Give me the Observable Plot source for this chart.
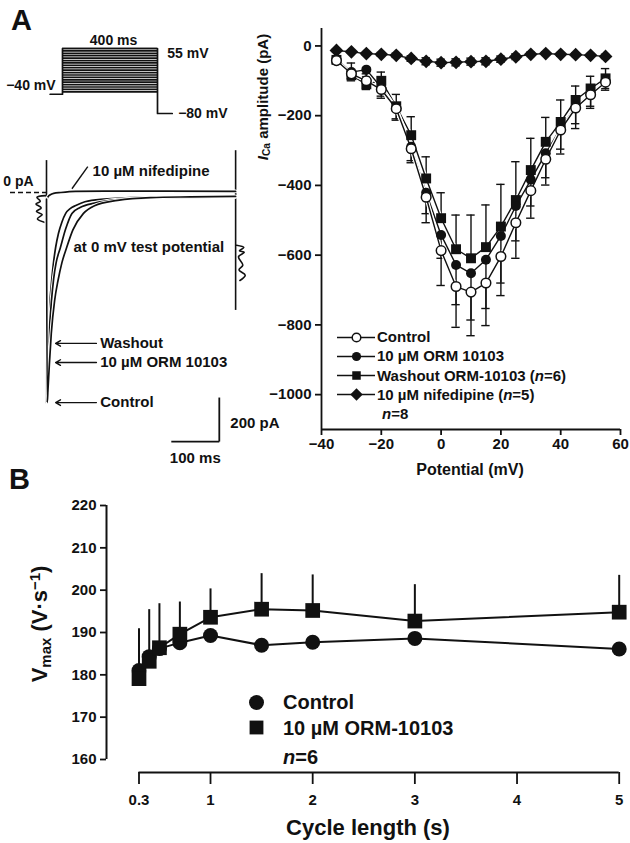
<!DOCTYPE html>
<html><head><meta charset="utf-8">
<script src="https://cdn.jsdelivr.net/npm/d3@7"></script>
<script src="https://cdn.jsdelivr.net/npm/@observablehq/plot@0.6"></script>
<style>
html,body{margin:0;padding:0;background:#fff;}
#fig{position:relative;width:630px;height:843px;overflow:hidden;background:#fff;font-family:"Liberation Sans",Arial,Helvetica,sans-serif;font-weight:bold;color:#111;}
#fig svg{position:absolute;left:0;top:0;}
#fig g[aria-label^="x-axis"] line,#fig g[aria-label^="x-axis"] path,#fig g[aria-label^="y-axis"] line,#fig g[aria-label^="y-axis"] path{stroke-width:1.8px;}
.lab{position:absolute;white-space:nowrap;line-height:1;}
.lab sub{font-size:0.68em;vertical-align:-0.25em;line-height:0;}
.lab sup{font-size:0.68em;vertical-align:0.45em;line-height:0;}
</style></head><body><div id="fig"></div>
<script>
// ================= DATA =================
// Panel A – voltage protocol (test potentials, mV) and its outline
const testPotentials = [-35,-30,-25,-20,-15,-10,-5,0,5,10,15,20,25,30,35,40,45,50,55];
const protocolTime = [-52, 0, 0, 400, 400, 462];
const protocolVolt = [-40, -40, 55, 55, -80, -80];

// Panel A – representative current traces at 0 mV (time ms, current pA)
const controlTraceT = [0, 1.5, 3, 6, 10, 17, 24, 32, 42, 55, 77, 100, 148, 217, 300, 394];
const controlTraceI = [-30, -955, -900, -780, -640, -490, -400, -320, -250, -170, -95, -60, -36, -23, -20, -18];
const ormTraceT = [0, 1.5, 3, 6, 10, 15, 20, 29, 40, 53, 70, 100, 150, 250, 394];
const ormTraceI = [-30, -773, -730, -620, -500, -390, -320, -250, -165, -95, -68, -48, -32, -24, -20];
const washoutTraceT = [0, 1.5, 3, 6, 10, 14, 19, 25, 32, 40, 50, 61, 80, 120, 200, 394];
const washoutTraceI = [-30, -686, -640, -530, -420, -330, -250, -185, -135, -95, -72, -59, -42, -30, -22, -18];
const nifTraceT = [0, 3, 8, 15, 30, 60, 120, 250, 394];
const nifTraceI = [-36, -20, -10, -4, 0, 5, 6, 6, 5];
// small pre-pulse and tail artefacts
const prePulseT = [-2, -20, -13, -22, -11, -21, -9, -19, -3];
const prePulseI = [-14, -22, -40, -52, -70, -86, -100, -120, -136];
const tailT = [396, 411, 402, 412, 400, 409, 401, 414, 403];
const tailI = [-240, -250, -265, -272, -292, -330, -352, -376, -400];
const traceNames = ["Washout", "10 \u00b5M ORM 10103", "Control"];
const tracePeaks = [-686, -773, -955];
const scaleBarTime = [260, 360];      // 100 ms
const scaleBarCurrent = [-932, -1132]; // 200 pA

// Panel A – I–V relationship
const potentials = [-35,-30,-25,-20,-15,-10,-5,0,5,10,15,20,25,30,35,40,45,50,55];
const ivControl = [-42,-80,-100,-125,-180,-295,-434,-587,-690,-706,-680,-604,-507,-415,-325,-241,-178,-140,-104];
const ivControlErr = [8,20,25,25,33,40,73,100,117,125,122,112,102,79,74,69,59,39,23];
const ivORM = [-38,-75,-68,-119,-179,-289,-421,-542,-628,-652,-613,-545,-459,-384,-308,-236,-173,-138,-100];
const ivORMErr = [8,18,20,25,30,40,60,67,114,134,140,135,100,75,70,60,50,35,22];
const ivWashout = [-40,-84,-110,-100,-173,-256,-380,-494,-583,-609,-577,-518,-442,-356,-275,-218,-155,-122,-93];
const ivWashoutErr = [8,35,30,25,34,53,62,73,98,124,121,121,110,91,70,63,40,35,28];
const ivNifedipine = [-13,-17,-22,-24,-27,-36,-44,-48,-47,-45,-44,-38,-31,-24,-22,-24,-25,-27,-30];
const ivNifedipineErr = [4,4,5,5,6,8,10,10,10,10,10,9,8,6,5,5,5,5,6];
const ivSeries = ["Control", "10 \u00b5M ORM 10103", "Washout ORM-10103", "10 \u00b5M nifedipine"];
const ivLegendText = ["Control", "10 \u00b5M ORM 10103", "Washout ORM-10103 (<i>n</i>=6)", "10 \u00b5M nifedipine (<i>n</i>=5)"];
const ivXTicks = [-40, -20, 0, 20, 40, 60];
const ivYTicks = [0, -200, -400, -600, -800, -1000];

// Panel B – Vmax vs cycle length
const cycleLength = [0.3, 0.4, 0.5, 0.7, 1, 1.5, 2, 3, 5];
const vmaxControl = [181.0, 184.3, 186.2, 187.6, 189.3, 187.0, 187.7, 188.6, 186.1];
const vmaxORM = [179.1, 183.2, 186.4, 189.6, 193.6, 195.5, 195.2, 192.7, 194.8];
const vmaxORMErr = [11.8, 12.2, 10.4, 7.6, 6.7, 8.4, 8.4, 8.6, 8.7];
const bSeries = ["Control", "10 \u00b5M ORM-10103"];
const bXTicks = [0.3, 1, 2, 3, 4, 5];
const bYTicks = [160, 170, 180, 190, 200, 210, 220];

// ================= HELPERS =================
const W = 630, H = 843;
const FONT = '"Liberation Sans", Arial, Helvetica, sans-serif';
const INK = "#111";
const fig = document.getElementById("fig");
const fmtMinus = d => (d < 0 ? "\u2212" + Math.abs(d) : String(d));
function plot(opts) {
  const svg = Plot.plot({width: W, height: H, marginTop: 0, marginRight: 0, marginBottom: 0, marginLeft: 0,
    ...opts,
    style: `background: transparent; font-family: ${FONT}; font-weight: bold; font-size: 15px; color: ${INK}; overflow: visible;`});
  fig.appendChild(svg);
  return svg;
}
function label(html, x, y, size, anchor) {
  const d = document.createElement("div");
  d.className = "lab"; d.innerHTML = html;
  d.style.fontSize = size + "px";
  d.style.left = x + "px"; d.style.top = (y - 0.49 * size) + "px";
  if (anchor === "middle") d.style.transform = "translateX(-50%)";
  fig.appendChild(d);
}
function rotLabel(html, cx, cy, size) {
  const d = document.createElement("div");
  d.className = "lab"; d.innerHTML = html;
  d.style.fontSize = size + "px";
  d.style.left = cx + "px"; d.style.top = cy + "px";
  d.style.transform = "translate(-50%,-50%) rotate(-90deg)";
  fig.appendChild(d);
}
const diamondSym = d3.symbolDiamond2 || {draw(ctx, size) { const r = Math.sqrt(size) * 0.62625; ctx.moveTo(0,-r); ctx.lineTo(r,0); ctx.lineTo(0,r); ctx.lineTo(-r,0); ctx.closePath(); }};

// ================= PANEL A: protocol =================
const protocol = protocolTime.map((t, i) => ({t, v: protocolVolt[i]}));
plot({
  x: {domain: [0, 400], range: [62, 157], axis: null},
  y: {domain: [-80, 55], range: [113, 48], axis: null},
  marks: [
    Plot.ruleY(testPotentials, {y: d => d, x1: 0, x2: 400, stroke: INK, strokeWidth: 1.7}),
    Plot.line(protocol, {x: "t", y: "v", stroke: INK, strokeWidth: 1.7}),
    Plot.text(["400 ms"], {x: 215, y: 72, text: d => d, fontSize: 14}),
    Plot.text(["55 mV"], {x: 441, y: 44, text: d => d, fontSize: 14, textAnchor: "start"}),
    Plot.text(["\u221280 mV"], {x: 487, y: -80, text: d => d, fontSize: 14, textAnchor: "start"}),
    Plot.text(["\u221240 mV"], {x: -29, y: -22, text: d => d, fontSize: 14, textAnchor: "end"})
  ]
});

// ================= PANEL A: current traces =================
const traces = [
  ...nifTraceT.map((t, i) => ({s: "nif", t, i: nifTraceI[i]})),
  ...washoutTraceT.map((t, i) => ({s: "wash", t, i: washoutTraceI[i]})),
  ...ormTraceT.map((t, i) => ({s: "orm", t, i: ormTraceI[i]})),
  ...controlTraceT.map((t, i) => ({s: "ctrl", t, i: controlTraceI[i]}))
];
const prePulse = prePulseT.map((t, k) => ({t, i: prePulseI[k]}));
const tail = tailT.map((t, k) => ({t, i: tailI[k]}));
const arrows = traceNames.map((name, k) => ({name, peak: tracePeaks[k]}));
const traceMarks = [];
for (const s of ["nif", "wash", "orm", "ctrl"]) {
  const d = traces.filter(r => r.s === s);
  traceMarks.push(Plot.line(d, {x: "t", y: "i", curve: "monotone-x", stroke: "white", strokeWidth: 3.6}));
  traceMarks.push(Plot.line(d, {x: "t", y: "i", curve: "monotone-x", stroke: INK, strokeWidth: 1.7}));
}
plot({
  x: {domain: [0, 400], range: [46, 238], axis: null},
  y: {domain: [-1000, 0], range: [412, 192], axis: null},
  marks: [
    Plot.ruleY([0], {x1: -75, x2: 0, stroke: INK, strokeWidth: 1.5, strokeDasharray: "5,3"}),
    Plot.ruleX([0], {y1: 145, y2: -960, stroke: INK, strokeWidth: 1.6}),
    Plot.ruleX([394], {y1: 190, y2: -536, stroke: INK, strokeWidth: 1.6}),
    Plot.line(prePulse, {x: "t", y: "i", curve: "catmull-rom", stroke: INK, strokeWidth: 1.6}),
    Plot.line(tail, {x: "t", y: "i", curve: "catmull-rom", stroke: INK, strokeWidth: 1.6}),
    ...traceMarks,
    Plot.link([{a: 53, b: 17, c: 86, d: 118}], {x1: "a", y1: "b", x2: "c", y2: "d", stroke: INK, strokeWidth: 1.4}),
    Plot.text(["10 \u00b5M nifedipine"], {x: 96, y: 95, text: d => d, textAnchor: "start"}),
    Plot.text(["at 0 mV test potential"], {x: 56, y: -249, text: d => d, textAnchor: "start"}),
    Plot.text(["0 pA"], {x: -90, y: 48, text: d => d, textAnchor: "start", fontSize: 14}),
    Plot.arrow(arrows, {x1: 104, y1: "peak", x2: 19, y2: "peak", stroke: INK, strokeWidth: 1.4, headLength: 6}),
    Plot.text(arrows, {x: 112, y: "peak", text: "name", textAnchor: "start"}),
    Plot.link([0], {x1: scaleBarTime[1], y1: scaleBarCurrent[0], x2: scaleBarTime[1], y2: scaleBarCurrent[1], stroke: INK, strokeWidth: 1.8}),
    Plot.link([0], {x1: scaleBarTime[0], y1: scaleBarCurrent[1], x2: scaleBarTime[1], y2: scaleBarCurrent[1], stroke: INK, strokeWidth: 1.8}),
    Plot.text(["200 pA"], {x: 383, y: -1049, text: d => d, textAnchor: "start"}),
    Plot.text(["100 ms"], {x: 310, y: -1209, text: d => d})
  ]
});

// ================= PANEL A: I–V =================
const ivDefs = [
  {name: ivSeries[3], vals: ivNifedipine, err: ivNifedipineErr, dir: 0},
  {name: ivSeries[2], vals: ivWashout, err: ivWashoutErr, dir: 1},
  {name: ivSeries[1], vals: ivORM, err: ivORMErr, dir: -1},
  {name: ivSeries[0], vals: ivControl, err: ivControlErr, dir: -1}
];
const iv = [], ivBars = [], ivCaps = [];
for (const s of ivDefs) {
  potentials.forEach((x, k) => {
    const v = s.vals[k], e = s.err[k];
    iv.push({s: s.name, x, v});
    const lo = s.dir === 0 ? v - e : v, hi = s.dir === 0 ? v + e : v + s.dir * e;
    ivBars.push({s: s.name, x, lo, hi});
    if (s.dir === 0) { ivCaps.push({x, y: v - e}); ivCaps.push({x, y: v + e}); }
    else ivCaps.push({x, y: hi});
  });
}
const ivLineMarks = [];
for (const s of ivDefs) {
  const d = iv.filter(r => r.s === s.name);
  ivLineMarks.push(Plot.line(d, {x: "x", y: "v", stroke: "white", strokeWidth: 3.8}));
  ivLineMarks.push(Plot.line(d, {x: "x", y: "v", stroke: INK, strokeWidth: 1.4}));
}
plot({
  marginLeft: 321, marginRight: 10, marginTop: 28, marginBottom: 414,
  x: {domain: [-40, 60], ticks: ivXTicks, tickSize: 6, tickPadding: 3, tickFormat: fmtMinus, label: null},
  y: {domain: [-1100, 50], ticks: ivYTicks, tickSize: 6, tickPadding: 4, tickFormat: fmtMinus, label: null},
  marks: [
    Plot.ruleX([-40], {y1: -1100, y2: 50, stroke: INK, strokeWidth: 1.8}),
    Plot.ruleY([-1100], {x1: -40, x2: 60, stroke: INK, strokeWidth: 1.8}),
    Plot.ruleX(ivBars, {x: "x", y1: "lo", y2: "hi", stroke: INK, strokeWidth: 1.4}),
    Plot.ruleY(ivCaps, {y: "y", x1: d => d.x - 1.4, x2: d => d.x + 1.4, stroke: INK, strokeWidth: 1.4}),
    ...ivLineMarks,
    Plot.dot(iv.filter(d => d.s === ivSeries[3]), {x: "x", y: "v", symbol: diamondSym, r: 6.2, fill: INK}),
    Plot.dot(iv.filter(d => d.s === ivSeries[2]), {x: "x", y: "v", symbol: "square", r: 5.6, fill: INK}),
    Plot.dot(iv.filter(d => d.s === ivSeries[1]), {x: "x", y: "v", r: 5, fill: INK}),
    Plot.dot(iv.filter(d => d.s === ivSeries[0]), {x: "x", y: "v", r: 4.8, fill: "white", stroke: INK, strokeWidth: 1.5})
  ]
});
// I–V legend
const ivLegY = d3.scalePoint().domain(ivSeries).range([336, 394.3]).padding(0);
plot({
  x: {domain: [0, 1], range: [337, 375], axis: null},
  y: {type: "point", domain: ivSeries, range: [336, 394.3], padding: 0, axis: null},
  marks: [
    Plot.ruleY(ivSeries, {y: d => d, x1: 0, x2: 1, stroke: INK, strokeWidth: 1.5}),
    Plot.dot([ivSeries[3]], {x: 0.5, y: d => d, symbol: diamondSym, r: 5.6, fill: INK}),
    Plot.dot([ivSeries[2]], {x: 0.5, y: d => d, symbol: "square", r: 4.8, fill: INK}),
    Plot.dot([ivSeries[1]], {x: 0.5, y: d => d, r: 4.6, fill: INK}),
    Plot.dot([ivSeries[0]], {x: 0.5, y: d => d, r: 4.3, fill: "white", stroke: INK, strokeWidth: 1.5})
  ]
});
ivSeries.forEach((s, k) => label(ivLegendText[k], 377, ivLegY(s), 15));
label("<i>n</i>=8", 382, 413.3, 15);
rotLabel("<i>I</i><sub>Ca</sub> amplitude (pA)", 262, 97, 15);
label("Potential (mV)", 470, 470, 16, "middle");

// ================= PANEL B =================
// y axis (offset to the left of the data)
plot({
  marginLeft: 106, marginTop: 505, marginBottom: 84,
  x: {domain: [0, 1], axis: null},
  y: {domain: [160, 220], ticks: bYTicks, tickSize: 6, tickPadding: 4, label: null},
  marks: [Plot.ruleX([0], {y1: 160, y2: 220, stroke: INK, strokeWidth: 2})]
});
// x axis (offset below the data)
plot({
  marginLeft: 138.5, marginRight: 11.3, marginTop: 700, marginBottom: 71,
  x: {domain: [0.3, 5], ticks: bXTicks, tickSize: 12, tickPadding: 10, tickFormat: d => String(d), label: null},
  y: {domain: [0, 1], axis: null},
  marks: [Plot.ruleY([0], {x1: 0.3, x2: 5, stroke: INK, strokeWidth: 2})]
});
// data
const bCtrl = cycleLength.map((c, k) => ({c, v: vmaxControl[k]}));
const bOrm = cycleLength.map((c, k) => ({c, v: vmaxORM[k], top: vmaxORM[k] + vmaxORMErr[k]}));
plot({
  x: {domain: [0.3, 5], range: [138.5, 618.7], axis: null},
  y: {domain: [160, 220], range: [759, 505], axis: null},
  marks: [
    Plot.ruleX(bOrm, {x: "c", y1: "v", y2: "top", stroke: INK, strokeWidth: 2}),
    Plot.line(bCtrl, {x: "c", y: "v", stroke: INK, strokeWidth: 2}),
    Plot.line(bOrm, {x: "c", y: "v", stroke: INK, strokeWidth: 2}),
    Plot.dot(bCtrl, {x: "c", y: "v", r: 7.5, fill: INK}),
    Plot.dot(bOrm, {x: "c", y: "v", symbol: "square", r: 8.3, fill: INK})
  ]
});
// B legend
const bLegY = d3.scalePoint().domain(bSeries).range([701.7, 727.3]).padding(0);
plot({
  x: {domain: [0, 1], range: [256, 300], axis: null},
  y: {type: "point", domain: bSeries, range: [701.7, 727.3], padding: 0, axis: null},
  marks: [
    Plot.dot([bSeries[0]], {x: 0, y: d => d, r: 7.5, fill: INK}),
    Plot.dot([bSeries[1]], {x: 0, y: d => d, symbol: "square", r: 7.8, fill: INK})
  ]
});
bSeries.forEach(s => label(s, 283, bLegY(s), 20));
label("<i>n</i>=6", 283, 757, 20);
rotLabel("V<sub>max</sub> (V\u00b7s<sup>\u22121</sup>)", 40, 624, 22);
label("Cycle length (s)", 368, 828, 22, "middle");

// Panel letters
label("A", 11, 20, 29);
label("B", 9, 479, 29);
</script></body></html>
